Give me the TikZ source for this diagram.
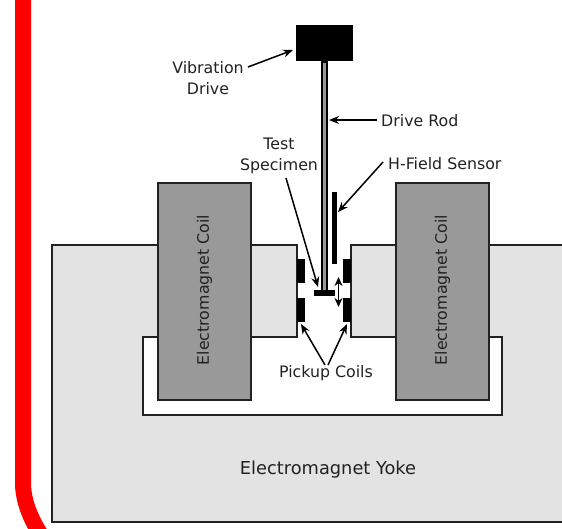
\documentclass[tikz,border=0pt]{standalone}
\usepackage{fontspec}
\setmainfont{DejaVu Sans}[Scale=1]
\usetikzlibrary{arrows.meta}
\definecolor{yokegray}{HTML}{E3E3E3}
\definecolor{coilgray}{HTML}{999999}
\definecolor{outl}{HTML}{222222}
\tikzset{
  px/.style={x=1pt,y=-1pt},
  lbl/.style={font=\fontsize{15.8}{21}\selectfont,text=outl,inner sep=0pt,align=center},
  biglbl/.style={font=\fontsize{17.8}{21}\selectfont,text=outl,inner sep=0pt,align=center},
  coilbox/.style={draw=outl,fill=coilgray,line width=2pt,inner sep=0pt},
  solidpart/.style={fill=black,draw=none},
  callout/.style={draw=black,line width=1.5pt,-{Stealth[length=10pt,width=8pt]}},
  twoway/.style={draw=black,line width=1.5pt,{Stealth[length=9pt,width=8pt]}-{Stealth[length=9pt,width=8pt]}},
  box/.style 2 args={minimum width=#1,minimum height=#2,inner sep=0pt,outer sep=0pt}
}
\begin{document}
\begin{tikzpicture}[px]
\useasboundingbox (0,0) rectangle (562,528);
\clip (0,0) rectangle (562,528);
\fill[white] (0,0) rectangle (562,528);
% frame
\draw[red,line width=16pt] (23,-5) -- (23,483) .. controls (23,500) and (30,518) .. (41,535);
% yoke
\draw[draw=outl,fill=yokegray,line width=2pt]
  (570,245) -- (351,245) -- (351,336.5) -- (502,336.5) -- (502,415) -- (143,415) -- (143,336.5)
  -- (297,336.5) -- (297,245) -- (52,245) -- (52,522) -- (570,522) -- cycle;
% coils
\node[coilbox,box={93pt}{217pt}] (lcoil) at (204.5,291.5) {};
\node[coilbox,box={93pt}{217pt}] (rcoil) at (442.5,291.5) {};
\node[lbl,rotate=90] (lcoiltxt) at (204.5,290) {Electromagnet Coil};
\node[lbl,rotate=90] (rcoiltxt) at (442.5,290) {Electromagnet Coil};
% pickup coils
\node[solidpart,box={8pt}{24pt}] (pul1) at (301,271) {};
\node[solidpart,box={8pt}{24pt}] (pul2) at (301,310) {};
\node[solidpart,box={8pt}{24pt}] (pur1) at (347,271) {};
\node[solidpart,box={8pt}{24pt}] (pur2) at (347,310) {};
% rod, specimen, drive, sensor
\node[draw=black,fill=coilgray,line width=2.2pt,box={5pt}{230pt}] (rod) at (324.5,177) {};
\node[solidpart,box={21pt}{6pt}] (spec) at (324.5,293) {};
\node[solidpart,box={57pt}{36pt}] (drive) at (324.5,43) {};
\node[solidpart,box={5pt}{72pt}] (sensor) at (334.5,228) {};
% labels
\node[lbl] (vib) at (208,78) {Vibration\\Drive};
\node[lbl,anchor=west] (rodtxt) at (381,120.5) {Drive Rod};
\node[lbl] (test) at (279,155.5) {Test\\Specimen};
\node[lbl,anchor=west] (hf) at (388,163.5) {H-Field Sensor};
\node[lbl] (pick) at (326,373) {Pickup Coils};
\node[biglbl] (yoke) at (328,470) {Electromagnet Yoke};
% connector ends
\coordinate (a1s) at (248,67); \coordinate (a1e) at (293,50);
\coordinate (a2s) at (377,120); \coordinate (a2e) at (329,120);
\coordinate (a3s) at (383,162); \coordinate (a3e) at (338,212);
\coordinate (a4s) at (286,178); \coordinate (a4e) at (318,287);
\coordinate (a5s) at (325,365); \coordinate (a5e) at (301,324);
\coordinate (a6s) at (328,365); \coordinate (a6e) at (347,324);
\coordinate (d1) at (338.5,277); \coordinate (d2) at (338.5,307);
\draw[callout] (a1s) -- (a1e);
\draw[callout] (a2s) -- (a2e);
\draw[callout] (a3s) -- (a3e);
\draw[callout] (a4s) -- (a4e);
\draw[callout] (a5s) -- (a5e);
\draw[callout] (a6s) -- (a6e);
\draw[twoway] (d1) -- (d2);
\end{tikzpicture}
\end{document}
